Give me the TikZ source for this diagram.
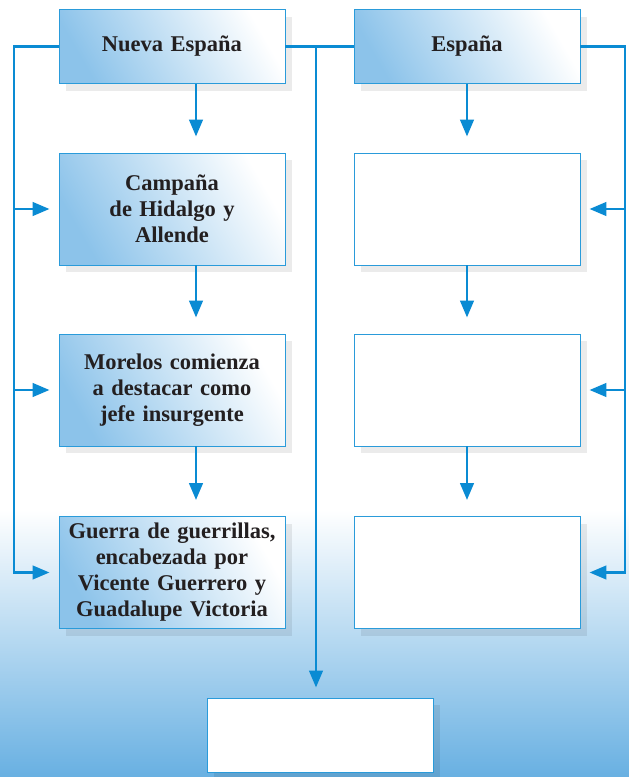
\documentclass[tikz,border=0pt]{standalone}
\usepackage{fontspec}
\setmainfont{Liberation Serif}
\usetikzlibrary{arrows.meta,shadows}
\definecolor{lineBlue}{HTML}{0A8BD3}
\definecolor{edgeBlue}{HTML}{2A9BDA}
\definecolor{boxBlue}{HTML}{8CC3EA}
\definecolor{bgBlue}{HTML}{68B0E2}
\definecolor{inkBlack}{HTML}{231F20}

\begin{document}
\begin{tikzpicture}[
  x=1pt, y=-1pt,
  line join=miter,
  link/.style={draw=lineBlue, line width=2.9pt},
  linkarrow/.style={link, -{Triangle[length=17pt,width=13.5pt]}},
  box/.style={draw=edgeBlue, line width=.9pt, minimum width=226pt,
    text width=220pt, align=center, inner sep=0pt,
    text=inkBlack, font=\bfseries\fontsize{22.5}{26}\selectfont,
    drop shadow={shadow xshift=7pt, shadow yshift=-7pt, fill=black, opacity=.08}},
  fullbox/.style={box, left color=boxBlue, right color=white, shading angle=120},
  emptybox/.style={box, fill=white},
  short/.style={minimum height=74pt},
  tall/.style={minimum height=112pt}
]

% Background: white above, fading to blue at the foot.
\fill[white] (0,0) rectangle (629,777);
\shade[top color=white, bottom color=bgBlue] (0,510) rectangle (629,777);
\useasboundingbox (0,0) rectangle (629,777);

% Left column: Nueva Espa\~na
\node[fullbox, short] (nueva)   at (172,46.5) {Nueva España};
\node[fullbox, tall]  (campana) at (172,209)  {Campaña\\de Hidalgo y\\Allende};
\node[fullbox, tall]  (morelos) at (172,390)  {Morelos comienza\\a destacar como\\jefe insurgente};
\node[fullbox, tall]  (guerra)  at (172,572.5)
  {Guerra de guerrillas,\\encabezada por\\Vicente Guerrero y\\Guadalupe Victoria};

% Right column: Espa\~na (blank boxes)
\node[fullbox, short] (espana) at (467,46.5) {España};
\node[emptybox, tall] (hecho1) at (467,209) {};
\node[emptybox, tall] (hecho2) at (467,390) {};
\node[emptybox, tall] (hecho3) at (467,572.5) {};

% Bottom: outcome
\node[emptybox, short] (final) at (320,735) {};

\coordinate (lbus) at (14,0);
\coordinate (rbus) at (625,0);
\coordinate (mbus) at (316,0);

% Vertical steps (left ones sit right of centre)
\draw[linkarrow, shorten >=16pt] ([xshift=24pt]nueva.south) -- ([xshift=24pt]campana.north);
\draw[linkarrow, shorten >=16pt] ([xshift=24pt]campana.south) -- ([xshift=24pt]morelos.north);
\draw[linkarrow, shorten >=16pt] ([xshift=24pt]morelos.south) -- ([xshift=24pt]guerra.north);
\draw[linkarrow, shorten >=16pt] (espana.south) -- (hecho1.north);
\draw[linkarrow, shorten >=16pt] (hecho1.south) -- (hecho2.north);
\draw[linkarrow, shorten >=16pt] (hecho2.south) -- (hecho3.north);

% Left bus
\draw[linkarrow, shorten >=9pt] (nueva.west) -| (lbus |- guerra.west) -- (guerra.west);
\draw[linkarrow, shorten >=9pt] (lbus |- campana.west) -- (campana.west);
\draw[linkarrow, shorten >=9pt] (lbus |- morelos.west) -- (morelos.west);

% Right bus
\draw[linkarrow, shorten >=9pt] (espana.east) -| (rbus |- hecho3.east) -- (hecho3.east);
\draw[linkarrow, shorten >=9pt] (rbus |- hecho1.east) -- (hecho1.east);
\draw[linkarrow, shorten >=9pt] (rbus |- hecho2.east) -- (hecho2.east);

% Middle: both sides lead down to the outcome
\draw[link] (nueva.east) -- (espana.west);
\draw[linkarrow, shorten >=10pt] (mbus |- nueva.east) -- (mbus |- final.north);
\end{tikzpicture}
\end{document}
